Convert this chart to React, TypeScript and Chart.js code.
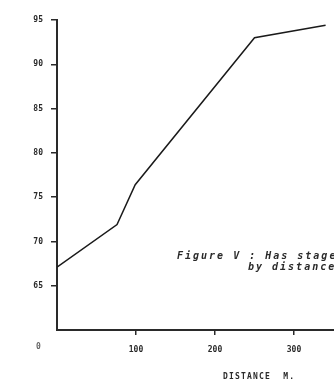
import React, { useEffect, useRef } from "react";
import { Chart, registerables } from "chart.js";

Chart.register(...registerables);

const distances = [0, 76, 99, 250, 340];
const values = [67.1, 71.9, 76.4, 93.0, 94.4];
const yTicks = [95, 90, 85, 80, 75, 70, 65];
const xTicks = [100, 200, 300, 400];
const captionLines = ["Figure V : Has stage", "by distance"];
const xTitle = "DISTANCE  M.";
const originLabel = "0";

const INK = "#2a2a2a";

const textPlugin = {
  id: "extraText",
  afterDraw(chart: any) {
    const { ctx, chartArea } = chart;
    ctx.save();
    ctx.fillStyle = INK;
    ctx.font = "bold italic 10px 'DejaVu Sans Mono'";
    ctx.textBaseline = "middle";
    ctx.textAlign = "left";
    (ctx as any).letterSpacing = "2px";
    ctx.fillText(captionLines[0], chartArea.left + 120, chartArea.top + 236);
    ctx.fillText(captionLines[1], chartArea.left + 191, chartArea.top + 247);
    ctx.font = "bold 8px 'DejaVu Sans Mono'";
    (ctx as any).letterSpacing = "1.2px";
    ctx.fillText(xTitle, chartArea.left + 166, chartArea.bottom + 47);
    (ctx as any).letterSpacing = "0px";
    ctx.fillStyle = "#666";
    ctx.fillText(originLabel, chartArea.left - 21, chartArea.bottom + 17);
    ctx.restore();
  },
};

export default function App() {
  const ref = useRef<HTMLCanvasElement>(null);
  useEffect(() => {
    if (!ref.current) return;
    const chart = new Chart(ref.current, {
      type: "line",
      data: {
        datasets: [
          {
            data: distances.map((d, i) => ({ x: d, y: values[i] })),
            borderColor: "#1a1a1a",
            borderWidth: 1.5,
            pointRadius: 0,
            tension: 0,
          },
        ],
      },
      options: {
        animation: false,
        responsive: false,
        maintainAspectRatio: false,
        layout: { padding: { top: 20, right: 27, left: 0, bottom: 0 } },
        plugins: { legend: { display: false }, tooltip: { enabled: false } },
        scales: {
          x: {
            type: "linear",
            min: 0,
            max: 400,
            afterFit: (s: any) => {
              s.height = 54;
            },
            afterBuildTicks: (s: any) => {
              s.ticks = xTicks.map((v) => ({ value: v }));
            },
            ticks: {
              color: INK,
              font: { family: "'DejaVu Sans Mono'", size: 8, weight: "bold" },
              padding: 10,
              maxRotation: 0,
            },
            grid: { drawOnChartArea: false, drawTicks: true, tickLength: 5, color: INK, lineWidth: 1.5 },
            border: { color: INK, width: 2 },
          },
          y: {
            type: "linear",
            min: 60,
            max: 95,
            afterFit: (s: any) => {
              s.width = 57;
            },
            afterBuildTicks: (s: any) => {
              s.ticks = yTicks.map((v) => ({ value: v }));
            },
            ticks: {
              color: INK,
              font: { family: "'DejaVu Sans Mono'", size: 8, weight: "bold" },
              padding: 8,
            },
            grid: { drawOnChartArea: false, drawTicks: true, tickLength: 6, color: INK, lineWidth: 1.5 },
            border: { color: INK, width: 2 },
          },
        },
      },
      plugins: [textPlugin],
    });
    return () => chart.destroy();
  }, []);
  return (
    <div style={{ position: "fixed", left: 0, top: 0, width: 334, height: 384, overflow: "hidden", background: "#fff" }}>
      <canvas ref={ref} width={400} height={384} style={{ display: "block" }} />
    </div>
  );
}
